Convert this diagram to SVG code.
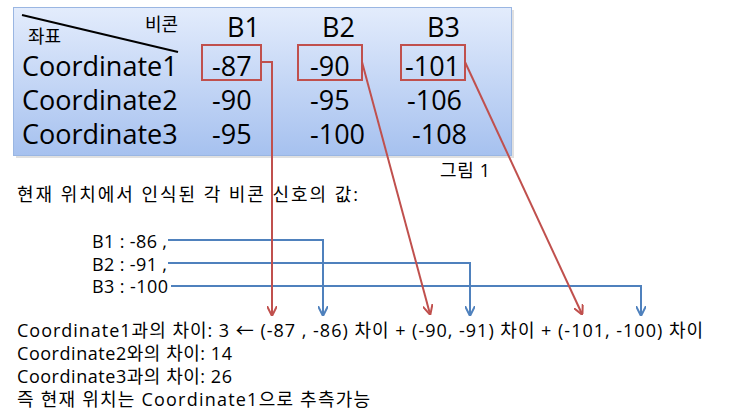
<svg xmlns="http://www.w3.org/2000/svg" width="741" height="416" viewBox="0 0 741 416">
<defs>
<linearGradient id="bg" x1="0" y1="0" x2="0" y2="1">
<stop offset="0" stop-color="#e3ecfc"/>
<stop offset="1" stop-color="#a6c1ef"/>
</linearGradient>
<marker id="ar" viewBox="0 0 10 10" refX="9" refY="5" markerWidth="5" markerHeight="5" orient="auto">
<path d="M0,0 L10,5 L0,10" fill="none" stroke="#c0504d" stroke-width="2"/>
</marker>
<marker id="ab" viewBox="0 0 10 10" refX="9" refY="5" markerWidth="5" markerHeight="5" orient="auto">
<path d="M0,0 L10,5 L0,10" fill="none" stroke="#4f81bd" stroke-width="2"/>
</marker>
</defs>
<style>
.t{font-family:"Open Sans","Noto Sans CJK KR",sans-serif;fill:#000}
.k{font-family:"Noto Sans CJK KR",sans-serif;fill:#000}
.big{font-size:27px}
.mid{font-size:18px}
.sm{font-size:18px}
.rb{fill:none;stroke:#c0504d;stroke-width:2}
.rl{fill:none;stroke:#c0504d;stroke-width:2}
.bl{fill:none;stroke:#4f81bd;stroke-width:2}
</style>
<rect width="741" height="416" fill="#fff"/>
<g id="table">
<rect x="16" y="10" width="498" height="148" fill="#000" opacity="0.12"/>
<rect x="13.5" y="7.5" width="498" height="148" fill="url(#bg)" stroke="#9ab6e2" stroke-width="1"/>
<line x1="22" y1="15" x2="178" y2="52" stroke="#000" stroke-width="2"/>
<text class="k mid" x="145" y="31">비콘</text>
<text class="k" font-size="18" x="28" y="43">좌표</text>
<text class="t big" x="227" y="37">B1</text>
<text class="t big" x="322" y="37">B2</text>
<text class="t big" x="427" y="37">B3</text>
<text class="t big" x="22" y="76">Coordinate1</text>
<text class="t big" x="22" y="110">Coordinate2</text>
<text class="t big" x="22" y="144">Coordinate3</text>
<text class="t big" x="212" y="76">-87</text>
<text class="t big" x="212" y="110">-90</text>
<text class="t big" x="212" y="144">-95</text>
<text class="t big" x="310" y="76">-90</text>
<text class="t big" x="310" y="110">-95</text>
<text class="t big" x="310" y="144">-100</text>
<text class="t big" x="405" y="76">-101</text>
<text class="t big" x="407" y="110">-106</text>
<text class="t big" x="412" y="144">-108</text>
</g>
<g id="highlights">
<rect class="rb" x="202" y="45" width="59" height="35"/>
<rect class="rb" x="298" y="45" width="64" height="35"/>
<rect class="rb" x="401" y="45" width="64" height="35"/>
</g>
<g id="caption">
<text class="t sm" x="440" y="177" textLength="50" lengthAdjust="spacing">그림 1</text>
</g>
<g id="readings">
<text class="t sm" x="17" y="201" textLength="341" lengthAdjust="spacing">현재 위치에서 인식된 각 비콘 신호의 값:</text>
<text class="t sm" x="92" y="248" textLength="75" lengthAdjust="spacing">B1 : -86 ,</text>
<text class="t sm" x="92" y="271" textLength="75" lengthAdjust="spacing">B2 : -91 ,</text>
<text class="t sm" x="92" y="293" textLength="76" lengthAdjust="spacing">B3 : -100</text>
</g>
<g id="result">
<text class="t sm" x="17" y="337" textLength="686" lengthAdjust="spacing">Coordinate1과의 차이: 3 ← (-87 , -86) 차이 + (-90, -91) 차이 + (-101, -100) 차이</text>
<text class="t sm" x="17" y="360" textLength="215" lengthAdjust="spacing">Coordinate2와의 차이: 14</text>
<text class="t sm" x="17" y="383" textLength="215" lengthAdjust="spacing">Coordinate3과의 차이: 26</text>
<text class="t sm" x="17" y="406" textLength="353" lengthAdjust="spacing">즉 현재 위치는 Coordinate1으로 추측가능</text>
</g>
<g id="connectors">
<path class="bl" d="M168,240 H323 V315" marker-end="url(#ab)"/>
<path class="bl" d="M168,263 H470 V315" marker-end="url(#ab)"/>
<path class="bl" d="M171,286 H641 V315" marker-end="url(#ab)"/>
<path class="rl" d="M261,62 H272 V315" marker-end="url(#ar)"/>
<path class="rl" d="M362,62 L430,314" marker-end="url(#ar)"/>
<path class="rl" d="M465,62 L582,314" marker-end="url(#ar)"/>
</g>
</svg>
